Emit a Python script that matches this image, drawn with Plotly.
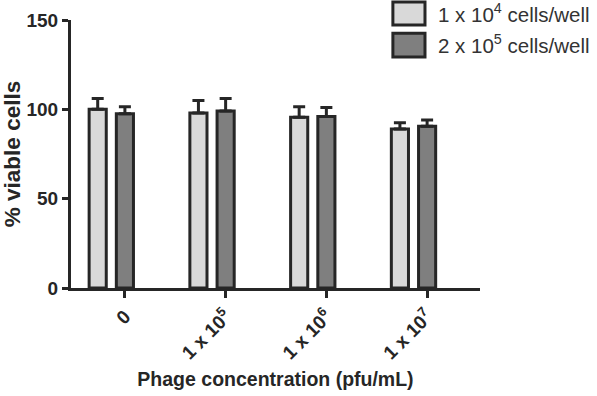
import plotly.graph_objects as go

categories = ["0", "1 x 10<sup>5</sup>", "1 x 10<sup>6</sup>", "1 x 10<sup>7</sup>"]
x_pos = [0, 1, 2, 3]
series_names = ["1 x 10<sup>4</sup> cells/well", "2 x 10<sup>5</sup> cells/well"]
low_density = [100, 98, 95.5, 89]
low_err = [6, 7, 6, 3.5]
high_density = [97.5, 99, 96, 90.5]
high_err = [4, 7, 5, 3.5]
y_ticks = [0, 50, 100, 150]

INK = "#262626"
LIGHT = "#d9d9d9"
DARK = "#7f7f7f"

fig = go.Figure()
fig.add_trace(go.Bar(
    x=x_pos, y=low_density, width=0.17, offset=-0.355,
    marker=dict(color=LIGHT, line=dict(color=INK, width=3)),
    error_y=dict(type="data", array=low_err, arrayminus=[0]*4, symmetric=False,
                 color=INK, thickness=3, width=6),
    name=series_names[0], showlegend=False,
))
fig.add_trace(go.Bar(
    x=x_pos, y=high_density, width=0.17, offset=-0.085,
    marker=dict(color=DARK, line=dict(color=INK, width=3)),
    error_y=dict(type="data", array=high_err, arrayminus=[0]*4, symmetric=False,
                 color=INK, thickness=3, width=6),
    name=series_names[1], showlegend=False,
))

font_family = "Liberation Sans, Arial, sans-serif"

# manual legend
legend_rows = [(0.981, 1.067, LIGHT, 1.025), (0.862, 0.951, DARK, 0.91)]
for (y0, y1, col, ty), name in zip(legend_rows, series_names):
    fig.add_shape(type="rect", xref="paper", yref="paper", x0=0.787, x1=0.8655,
                  y0=y0, y1=y1, fillcolor=col, line=dict(color=INK, width=3))
    fig.add_annotation(xref="paper", yref="paper", x=0.893, y=ty, text=name,
                       showarrow=False, xanchor="left", yanchor="middle",
                       font=dict(family=font_family, size=20.5, color="#333333"))

fig.update_layout(
    width=597, height=396,
    margin=dict(l=71, r=117, t=20, b=108),
    plot_bgcolor="white", paper_bgcolor="white",
    barmode="overlay",
    font=dict(family=font_family, color=INK),
    xaxis=dict(
        range=[-0.535, 3.525], tickvals=x_pos, ticktext=categories,
        tickangle=-45, ticks="outside", ticklen=7, tickwidth=3, tickcolor=INK,
        showline=True, linewidth=3, linecolor=INK, showgrid=False, zeroline=False,
        automargin=False,
        tickfont=dict(family=font_family, size=19, color=INK, weight="bold"),
        title=dict(text="Phage concentration (pfu/mL)", standoff=10,
                   font=dict(family=font_family, size=19.5, color=INK, weight="bold")),
    ),
    yaxis=dict(
        range=[0, 150], tickvals=y_ticks, ticks="outside", ticklen=6, tickwidth=3,
        tickcolor=INK, showline=True, linewidth=3, linecolor=INK, showgrid=False,
        zeroline=False, automargin=False,
        tickfont=dict(family=font_family, size=19, color=INK, weight="bold"),
        title=dict(text="% viable cells", standoff=8,
                   font=dict(family=font_family, size=22.5, color=INK, weight="bold")),
    ),
)

fig.write_html("out.html", config={"displayModeBar": False},
               post_script="document.body.style.margin='0';")
